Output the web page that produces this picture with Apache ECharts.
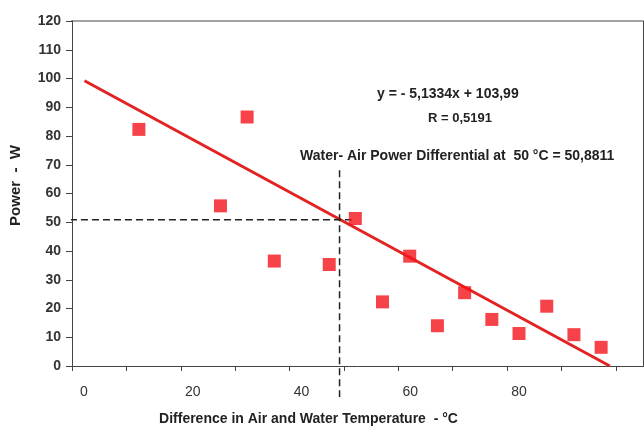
<!DOCTYPE html>
<html>
<head>
<meta charset="utf-8">
<script src="https://cdn.jsdelivr.net/npm/echarts@6/dist/echarts.min.js"></script>
<style>
  html, body { margin: 0; padding: 0; background: #fff; }
  #main { width: 644px; height: 434px; }
</style>
</head>
<body>
<div id="main"></div>
<script>
// measured points (temperature difference, power)
var tempDiff = [12.3, 27.3, 32.2, 37.2, 47.3, 52.1, 57.1, 62.1, 67.2, 72.2, 77.2, 82.2, 87.3, 92.3, 97.3];
var power    = [82.3, 55.7, 86.6, 36.5, 35.3, 51.3, 22.3, 38.2, 14.0, 25.5, 16.2, 11.3, 20.8, 10.9, 6.5];

// trend line end points
var trendX = [2.3, 98.9];
var trendY = [99.2, 0];

// dashed guide at 50 °C
var guideX = 49.2;
var guideY = 50.88;
var guideHX = [-2.4, 51.5];
var guideVY = [68.1, -10.8];

var xTicks = [0, 20, 40, 60, 80];

var chart = echarts.init(document.getElementById('main'));

var pts = tempDiff.map(function (x, i) { return [x, power[i]]; });
var trend = trendX.map(function (x, i) { return [x, trendY[i]]; });

var font = '"Liberation Sans", Arial, sans-serif';

var option = {
  backgroundColor: '#fff',
  animation: false,
  grid: { left: 71, right: 1, top: 21, bottom: 68, show: false },
  xAxis: {
    type: 'value',
    min: 0,
    max: 105,
    interval: 10,
    splitLine: { show: false },
    axisLine: { lineStyle: { color: '#444', width: 1 } },
    axisTick: { show: true, length: 5, lineStyle: { color: '#444' } },
    axisLabel: {
      margin: 19,
      padding: [0, 0, 0, 24],
      color: '#333',
      fontFamily: font,
      fontSize: 14,
      showMaxLabel: false,
      formatter: function (v) { return xTicks.indexOf(v) >= 0 ? String(v) : ''; }
    },
    name: 'Difference in Air and Water Temperature  - \u00B0C',
    nameLocation: 'middle',
    nameGap: 46,
    nameTextStyle: { color: '#222', fontFamily: font, fontSize: 14, fontWeight: 'bold', padding: [0, 98, 0, 0] }
  },
  yAxis: [{
    type: 'value',
    min: 0,
    max: 120,
    interval: 10,
    splitLine: { show: false },
    axisLine: { show: true, lineStyle: { color: '#444', width: 1 } },
    axisTick: { show: true, length: 6, lineStyle: { color: '#444' } },
    axisLabel: { margin: 11, color: '#333', fontFamily: font, fontSize: 14, fontWeight: 'bold' },
    name: 'Power  -  W',
    nameLocation: 'middle',
    nameGap: 49,
    nameTextStyle: { color: '#222', fontFamily: font, fontSize: 15, fontWeight: 'bold', padding: [0, 0, 0, 16] }
  }, {
    type: 'value',
    position: 'right',
    min: 0,
    max: 120,
    interval: 10,
    splitLine: { show: false },
    axisLine: { show: true, lineStyle: { color: '#444', width: 1 } },
    axisTick: { show: true, length: 3, lineStyle: { color: '#444' } },
    axisLabel: { show: false }
  }],
  graphic: [
    { type: 'line', shape: { x1: 71, y1: 21, x2: 643, y2: 21 }, style: { stroke: '#444', lineWidth: 1 } },
    { type: 'text', left: 377, top: 87, style: { text: 'y = - 5,1334x + 103,99', font: 'bold 14px ' + font, fill: '#222' } },
    { type: 'text', left: 428, top: 112, style: { text: 'R = 0,5191', font: 'bold 13px ' + font, fill: '#222' } },
    { type: 'text', left: 300, top: 149, style: { text: 'Water- Air Power Differential at  50 \u00B0C = 50,8811', font: 'bold 14px ' + font, fill: '#222' } }
  ],
  series: [
    {
      type: 'line',
      data: trend,
      symbol: 'none',
      lineStyle: { color: '#e32222', width: 3 },
      z: 3
    },
    {
      type: 'line',
      data: [[guideHX[0], guideY], [guideHX[1], guideY]],
      symbol: 'none',
      clip: false,
      lineStyle: { color: '#222', width: 1.5, type: [7, 4] },
      z: 4
    },
    {
      type: 'line',
      data: [[guideX, guideVY[0]], [guideX, guideVY[1]]],
      symbol: 'none',
      clip: false,
      lineStyle: { color: '#222', width: 1.5, type: [7, 4] },
      z: 4
    },
    {
      type: 'scatter',
      data: pts,
      symbol: 'rect',
      symbolSize: 13,
      itemStyle: { color: '#f2141b' },
      z: 5
    }
  ]
};

chart.setOption(option);
</script>
</body>
</html>
